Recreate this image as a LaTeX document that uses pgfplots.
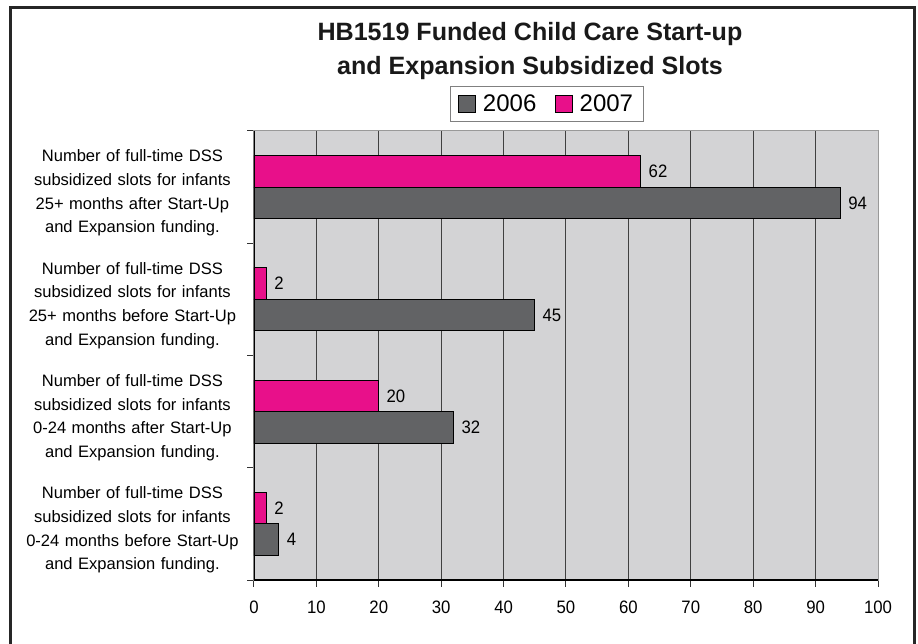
\documentclass[border=0pt]{standalone}
\usepackage{fontspec}
\setmainfont{Liberation Sans}
\newfontfamily\numfont[FakeStretch=0.93]{Liberation Sans}
\usepackage{pgfplots}
\pgfplotsset{compat=1.18}
\definecolor{c2006}{RGB}{98,99,101}
\definecolor{c2007}{RGB}{232,16,138}
\definecolor{plotbg}{RGB}{211,211,213}

\begin{document}
\begin{tikzpicture}
% page size: 918 x 643 px at 0.75pt per px, origin at the axis' lower left corner
\useasboundingbox (-190.5pt,-47.25pt) rectangle (498pt,435pt);
\begin{axis}[
  name=ax, at={(0,0)}, anchor=south west,
  scale only axis, width=468pt, height=336.75pt,
  xbar, bar width=23.6pt,
  xmin=0, xmax=100, ymin=-0.5, ymax=3.5,
  xtick={0,10,...,100},
  ytick={0,1,2,3},
  yticklabels={
    {Number of full-time DSS\\subsidized slots for infants\\0-24 months before Start-Up\\and Expansion funding.},
    {Number of full-time DSS\\subsidized slots for infants\\0-24 months after Start-Up\\and Expansion funding.},
    {Number of full-time DSS\\subsidized slots for infants\\25+ months before Start-Up\\and Expansion funding.},
    {Number of full-time DSS\\subsidized slots for infants\\25+ months after Start-Up\\and Expansion funding.}},
  minor ytick={-0.5,0.5,1.5,2.5,3.5},
  major y tick style={draw=none},
  tick align=outside,
  major tick length=5pt, minor tick length=5pt,
  tick style={black!80, line width=0.75pt},
  xtick pos=bottom, ytick pos=left,
  xmajorgrids,
  major grid style={black!75, line width=0.75pt},
  axis background/.style={fill=plotbg},
  axis line style={draw=black!40, line width=0.75pt},
  /pgf/number format/assume math mode=true,
  xticklabel style={font=\numfont\fontsize{13.5}{13.5}\selectfont, yshift=-7pt},
  yticklabel style={align=center, text width=172pt, inner sep=0pt,
    font=\fontsize{12.4}{17.8}\selectfont, xshift=0pt, yshift=-4.5pt},
  nodes near coords,
  nodes near coords style={font=\numfont\fontsize{13.5}{13.5}\selectfont, black, inner sep=3pt, xshift=2.5pt},
  legend columns=2,
  legend style={at={(0.4696,1.0601)}, anchor=center, draw=black!50,
    font=\fontsize{18}{18}\selectfont, inner xsep=6pt, inner ysep=4pt,
    /tikz/every odd column/.append style={column sep=3pt},
    /tikz/every even column/.append style={column sep=12pt}},
  legend image code/.code={\draw[#1, draw=black, line width=0.75pt] (0pt,-6.2pt) rectangle (12.75pt,6.2pt);},
]
\addplot[fill=c2006, draw=black, line width=0.75pt, bar shift=-11.8pt]
  coordinates {(4,0) (32,1) (45,2) (94,3)};
\addplot[fill=c2007, draw=black, line width=0.75pt, bar shift=11.8pt]
  coordinates {(2,0) (20,1) (2,2) (62,3)};
\legend{2006,2007}
\draw[black, line width=1.1pt] (rel axis cs:0,1) -- (rel axis cs:0,0) -- (rel axis cs:1,0);
\end{axis}
\node[font=\fontsize{18.8}{25.5}\selectfont\bfseries, align=center, text=black!90]
  at (207pt,397.1pt) {HB1519 Funded Child Care Start-up\\and Expansion Subsidized Slots};
\draw[line width=2.25pt, black!85] (-182.6pt,-60pt) -- (-182.6pt,429.4pt) -- (495.4pt,429.4pt) -- (495.4pt,-60pt);
\end{tikzpicture}
\end{document}
